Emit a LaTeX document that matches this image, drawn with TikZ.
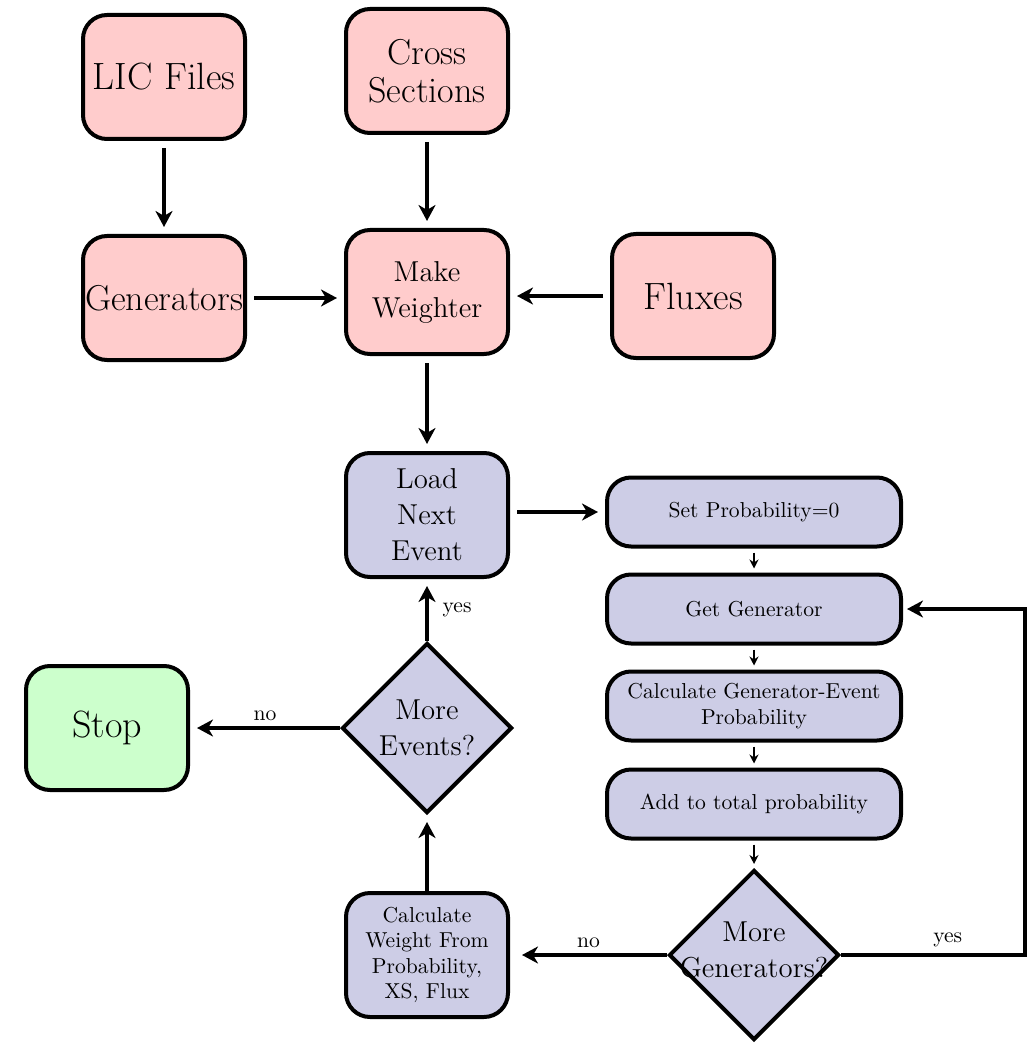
\documentclass[tikz,border=0pt]{standalone}
\usepackage{amsmath, amsfonts}
\usepackage{tikz}
\usetikzlibrary{shapes.geometric, arrows.meta, positioning}

\definecolor{setupred}{RGB}{255,204,204}
\definecolor{loopblue}{RGB}{205,205,230}
\definecolor{stopgreen}{RGB}{204,255,204}

\begin{document}
\begin{tikzpicture}[x=0.5pt, y=0.5pt]
\tikzstyle{every node}+=[inner sep=1pt, align=center, font={\fontsize{10.8}{12.75}\selectfont}]
\tikzstyle{setupbox}=[draw, line width=2pt, rounded corners=12pt, fill=setupred, minimum width=81pt, minimum height=62pt]
\tikzstyle{eventbox}=[setupbox, fill=loopblue]
\tikzstyle{stepbox}=[draw, line width=2pt, rounded corners=12pt, fill=loopblue, minimum width=147pt, minimum height=34.5pt]
\tikzstyle{decision}=[draw, diamond, line width=2pt, fill=loopblue, minimum width=85pt, minimum height=85pt, inner sep=0pt]
\tikzstyle{bigfont}=[font={\fontsize{19}{23}\selectfont}]
\tikzstyle{midfont}=[font={\fontsize{18}{19}\selectfont}]
\tikzstyle{bigarrow}=[line width=1.6pt, -{Stealth[length=8pt,width=8.5pt,inset=2.5pt]}, shorten >=3.5pt, shorten <=3.5pt]
\tikzstyle{smallarrow}=[thick, -{Stealth[length=4.5pt,width=4.5pt]}, shorten >=2pt, shorten <=2pt]
\useasboundingbox (0,0) rectangle (1030,-1043);
% setup part
\node [setupbox, bigfont] (lic) at (164,-77) {LIC Files};
\node [setupbox, midfont] (xsec) at (427,-71) {Cross\\Sections};
\node [setupbox, midfont] (gens) at (164,-298) {Generators};
\node [setupbox, font=\Large] (weighter) at (427,-292) {Make\\Weighter};
\node [setupbox, bigfont] (fluxes) at (693,-296) {Fluxes};
% event loop
\node [eventbox, font=\Large] (loadev) at (427,-515) {Load\\Next\\Event};
\node [stepbox] (setprob) at (754,-512) {Set Probability=0};
\node [stepbox] (getgen) at (754,-609) {Get Generator};
\node [stepbox] (calcprob) at (754,-706) {Calculate Generator-Event\\Probability};
\node [stepbox] (addprob) at (754,-804) {Add to total probability};
\node [decision, label={[font=\Large, align=center, yshift=2.5pt]center:{More\\Generators?}}] (moregen) at (754,-955) {};
\node [eventbox] (calcw) at (427,-955) {Calculate\\Weight From\\Probability,\\XS, Flux};
\node [decision, label={[font=\Large, align=center]center:{More\\Events?}}] (moreev) at (427,-728) {};
\node [setupbox, fill=stopgreen, bigfont] (stop) at (107,-728) {Stop};
\coordinate (loopturn) at (1025,-955);
% arrows
\draw [bigarrow] (lic) -- (gens);
\draw [bigarrow] (xsec) -- (weighter);
\draw [bigarrow] (gens.east) -- (gens.east -| weighter.west);
\draw [bigarrow] (fluxes.west) -- (fluxes.west -| weighter.east);
\draw [bigarrow] (weighter) -- (loadev);
\draw [bigarrow] (loadev.east |- setprob) -- (setprob.west);
\draw [smallarrow] (setprob) -- (getgen);
\draw [smallarrow] (getgen) -- (calcprob);
\draw [smallarrow] (calcprob) -- (addprob);
\draw [smallarrow] (addprob) -- (moregen);
\draw [bigarrow, shorten <=0pt] (moreev) -- node [right=6pt] (yesev) {yes} (loadev);
\draw [bigarrow, shorten <=0pt] (moreev) -- node [above=2pt] (noev) {no} (stop);
\draw [bigarrow, shorten <=0pt] (calcw) -- (moreev);
\draw [bigarrow, shorten <=0pt, shorten >=6pt] (moregen) -- node [above=2pt] (nogen) {no} (calcw);
\draw [bigarrow, shorten <=0pt, shorten >=2pt] (moregen) -- node [above=2pt, pos=0.58] (yesgen) {yes} (loopturn) |- (getgen);
\end{tikzpicture}
\end{document}
